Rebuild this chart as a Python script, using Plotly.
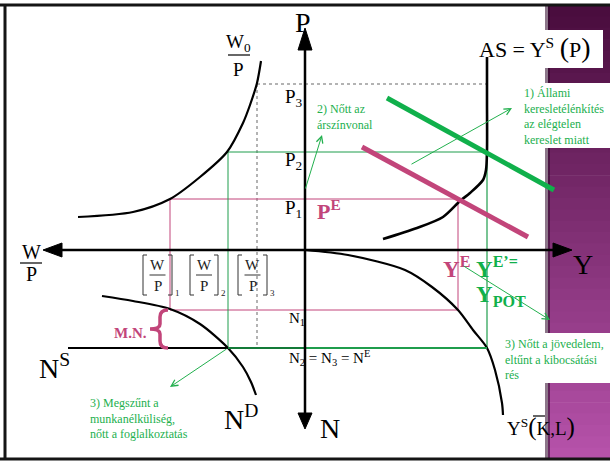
import plotly.graph_objects as go

# ---------------- data (diagram units, origin = crossing of the axes) ----------------
P_levels = [51, 98, 166]          # P1, P2, P3
WP_levels = [-135, -77, -48]      # (W/P)1, (W/P)2, (W/P)3
N_levels = [-60, -98]             # N1, N2 = N3 = N^E
Y_levels = [153, 182]             # Y^E, Y^E' = Y_POT

wage_curve_x = [-44, -48, -55, -62, -78, -105, -135, -172, -227]
wage_curve_y = [189, 167, 145, 127, 98, 73, 51, 38, 33]

as_curve_x = [182, 182, 182, 181, 178, 165, 155, 138, 112, 78]
as_curve_y = [193, 150, 100, 80, 70, 57, 49, 33, 22, 11]

prod_curve_x = [0, 43, 100, 127, 153, 168, 182, 190, 197, 198]
prod_curve_y = [0, -5, -20, -37, -60, -80, -98, -120, -153, -165]

nd_curve_x = [-203, -172, -135, -105, -77, -62, -54, -49]
nd_curve_y = [-46, -51, -59, -74, -98, -117, -132, -145]

ns_x = [-237, -77]
ns_y = [-98, -98]

ad_old_x = [57, 223]
ad_old_y = [103, 13]
ad_new_x = [82, 249]
ad_new_y = [152, 60]

# ---------------- styles ----------------
PINK = "#c2457a"
GREEN = "#10b04b"
GREEN_T = "#22b04e"
GREEN_G = "#1f9d4c"
DKGREEN = "#137a38"
SERIF = "Liberation Serif"

W, H = 610, 461
OX, OY = 305, 250  # pixel of origin


def X(px):
    return px - OX


def Yc(py):
    return OY - py


fig = go.Figure()


def line(xs, ys, color, width, dash="solid", shape="linear"):
    fig.add_trace(go.Scatter(x=xs, y=ys, mode="lines",
                             line=dict(color=color, width=width, dash=dash, shape=shape, smoothing=0.8),
                             hoverinfo="skip"))


def tri(xs, ys):
    fig.add_trace(go.Scatter(x=xs, y=ys, mode="lines", fill="toself", fillcolor="black",
                             line=dict(color="black", width=1), hoverinfo="skip"))


P1, P2, P3 = P_levels
WP1, WP2, WP3 = WP_levels
N1, N2 = N_levels
YE, YPOT = Y_levels

# guides: gray dotted (P3)
line([WP3, YPOT], [P3, P3], "#9a9a9a", 1.5, "dot")
line([WP3, WP3], [P3, N2], "#9a9a9a", 1.5, "dot")
# guides: pink (P1)
line([WP1, YE], [P1, P1], PINK, 1)
line([WP1, WP1], [P1, N1], PINK, 1)
line([WP1, YE], [N1, N1], PINK, 1)
line([YE, YE], [P1, N1], PINK, 1)
# guides: green (P2)
line([WP2, YPOT], [P2, P2], GREEN_G, 1)
line([WP2, WP2], [P2, N2], GREEN_G, 1)
line([YPOT, YPOT], [P2, N2], GREEN_G, 1.2)

# curves
line(wage_curve_x, wage_curve_y, "black", 2.2, shape="spline")
line(as_curve_x, as_curve_y, "black", 2.6, shape="spline")
line(prod_curve_x, prod_curve_y, "black", 2.2, shape="spline")
line(nd_curve_x, nd_curve_y, "black", 2.2, shape="spline")
line(ns_x, ns_y, "black", 2.2)
line([WP2, 0], [N2, N2], DKGREEN, 2.2)
line([0, YPOT], [N2, N2], GREEN_G, 1.8)

# aggregate demand lines
line(ad_old_x, ad_old_y, PINK, 5)
line(ad_new_x, ad_new_y, GREEN, 5)

# axes
line([0, 0], [200, -163], "black", 2.5)
line([-243, 248], [0, 0], "black", 2.5)
tri([-7, 7, 0, -7], [200, 200, 222, 200])
tri([-7, 7, 0, -7], [-163, -163, -179, -163])
tri([-243, -243, -262, -243], [7, -7, 0, 7])
tri([248, 248, 267, 248], [7, -7, 0, 7])

# ---------------- background shapes ----------------
shapes = []
n = 40
top = (74, 13, 62)
bot = (182, 82, 170)
y0p, y1p = 5, 459
for i in range(n):
    t = i / (n - 1)
    c = tuple(int(top[k] + (bot[k] - top[k]) * t) for k in range(3))
    a = y0p + (y1p - y0p) * i / n
    b = y0p + (y1p - y0p) * (i + 1) / n + 0.6
    shapes.append(dict(type="rect", xref="x", yref="y", x0=X(548), x1=X(611), y0=Yc(a), y1=Yc(b),
                       fillcolor="rgb(%d,%d,%d)" % c, line=dict(width=0), layer="below"))
shapes.append(dict(type="rect", xref="x", yref="y", x0=X(545), x1=X(550), y0=Yc(5), y1=Yc(459),
                   fillcolor="rgba(45,5,40,0.55)", line=dict(width=0), layer="below"))
for (a, b, c, d) in [(470, 603, 30, 68), (515, 611, 83, 148), (500, 611, 333, 383)]:
    shapes.append(dict(type="rect", xref="x", yref="y", x0=X(a), x1=X(b), y0=Yc(c), y1=Yc(d),
                       fillcolor="white", line=dict(width=0), layer="below"))

# frame
for (xa, ya, xb, yb) in [(0, 5, 610, 5), (5, 5, 5, 459), (0, 459, 610, 459)]:
    shapes.append(dict(type="line", xref="x", yref="y", x0=X(xa), y0=Yc(ya), x1=X(xb), y1=Yc(yb),
                       line=dict(color="#151515", width=3), layer="above"))

# fraction bars
for (xa, xb, yy) in [(20, 42, 263), (228, 250, 55)]:
    shapes.append(dict(type="line", xref="x", yref="y", x0=X(xa), y0=Yc(yy), x1=X(xb), y1=Yc(yy),
                       line=dict(color="black", width=1.2), layer="above"))

# bracketed (W/P)_i labels
bracket_left = [143, 190, 238]
bracket_right = [172, 218, 267]
annotations = []
for i in range(3):
    l, r = bracket_left[i], bracket_right[i]
    cx = (l + r) / 2
    shapes.append(dict(type="path", xref="x", yref="y",
                       path="M %f,%f L %f,%f L %f,%f L %f,%f" % (X(l + 4), Yc(255), X(l), Yc(255), X(l), Yc(295), X(l + 4), Yc(295)),
                       line=dict(color="#333", width=1), layer="above"))
    shapes.append(dict(type="path", xref="x", yref="y",
                       path="M %f,%f L %f,%f L %f,%f L %f,%f" % (X(r - 4), Yc(255), X(r), Yc(255), X(r), Yc(295), X(r - 4), Yc(295)),
                       line=dict(color="#333", width=1), layer="above"))
    shapes.append(dict(type="line", xref="x", yref="y", x0=X(cx - 8), x1=X(cx + 8), y0=Yc(275), y1=Yc(275),
                       line=dict(color="#333", width=1), layer="above"))
    annotations.append(dict(x=X(cx), y=Yc(265), text="W", showarrow=False,
                            font=dict(family=SERIF, size=15, color="#222")))
    annotations.append(dict(x=X(cx), y=Yc(286), text="P", showarrow=False,
                            font=dict(family=SERIF, size=15, color="#222")))
    annotations.append(dict(x=X(r + 1), y=Yc(293), text=str(i + 1), showarrow=False, xanchor="left",
                            font=dict(family=SERIF, size=9, color="#222")))

# M.N. brace
bx = 160
brace = ("M %f,%f Q %f,%f %f,%f L %f,%f Q %f,%f %f,%f Q %f,%f %f,%f L %f,%f Q %f,%f %f,%f" % (
    X(168), Yc(310), X(bx), Yc(310), X(bx), Yc(317),
    X(bx), Yc(324), X(bx), Yc(329), X(150), Yc(329),
    X(bx), Yc(329), X(bx), Yc(334),
    X(bx), Yc(341), X(bx), Yc(348), X(168), Yc(348)))
shapes.append(dict(type="path", xref="x", yref="y", path=brace,
                   line=dict(color=PINK, width=3.5), layer="above"))

# overline on K
shapes.append(dict(type="line", xref="x", yref="y", x0=X(533), x1=X(545), y0=Yc(416), y1=Yc(416),
                   line=dict(color="black", width=1.2), layer="above"))


def txt(px, py, text, size, color="black", xanchor="center", align="center"):
    annotations.append(dict(x=X(px), y=Yc(py), text=text, showarrow=False, xanchor=xanchor,
                            yanchor="middle", align=align,
                            font=dict(family=SERIF, size=size, color=color)))


# axis labels
txt(303, 22, "P", 28)
txt(330, 428, "N", 28)
txt(583, 264, "Y", 28)
txt(31, 252, "W", 20)
txt(31, 274, "P", 20)
txt(238, 43, "W<sub>0</sub>", 19)
txt(238, 69, "P", 19)
txt(477, 47, "AS = Y<sup>S</sup> <span style='font-size:28px'>(</span>P<span style='font-size:28px'>)</span>", 22, xanchor="left")
txt(505, 427, "Y<sup>S</sup><span style='font-size:25px'>(</span>K,L<span style='font-size:25px'>)</span>", 19, xanchor="left")
txt(37, 366, "N<sup>S</sup>", 28, xanchor="left")
txt(222, 417, "N<sup>D</sup>", 28, xanchor="left")

# level labels
txt(283, 98, "P<sub>3</sub>", 19, xanchor="left")
txt(283, 161, "P<sub>2</sub>", 19, xanchor="left")
txt(283, 209, "P<sub>1</sub>", 19, xanchor="left")
txt(287, 319, "N<sub>1</sub>", 15, xanchor="left")
txt(287, 358, "N<sub>2</sub> = N<sub>3</sub> = N<sup>E</sup>", 15, xanchor="left")

# coloured labels
txt(315, 210, "<b>P<sup>E</sup></b>", 22, PINK, xanchor="left")
txt(441, 267, "<b>Y<sup>E</sup></b>", 23, PINK, xanchor="left")
txt(474, 267, "<b>Y<sup>E’=</sup></b>", 23, GREEN, xanchor="left")
txt(474, 296, "<b>Y<sub>POT</sub></b>", 23, GREEN, xanchor="left")
txt(130, 333, "<b>M.N.</b>", 15, PINK)

# green explanations
txt(315, 117, "2) Nőtt az<br>árszínvonal", 12, GREEN_T, xanchor="left", align="left")
txt(522, 116, "1) Állami<br>keresletélénkítés<br>az elégtelen<br>kereslet miatt", 12, GREEN_T, xanchor="left", align="left")
txt(503, 359, "3) Nőtt a jövedelem,<br>eltűnt a kibocsátási<br>rés", 12, GREEN_T, xanchor="left", align="left")
txt(88, 418, "3) Megszűnt a<br>munkanélküliség,<br>nőtt a foglalkoztatás", 12, GREEN_T, xanchor="left", align="left")

# green arrows
for (tx, ty, hx, hy) in [(410, 165, 512, 108), (305, 190, 322, 135), (462, 265, 550, 320), (228, 348, 170, 387)]:
    annotations.append(dict(x=X(hx), y=Yc(hy), ax=X(tx), ay=Yc(ty), axref="x", ayref="y",
                            xref="x", yref="y", text="", showarrow=True, arrowhead=5, arrowsize=1.3,
                            arrowwidth=1, arrowcolor=GREEN_T, standoff=0, startstandoff=0))

fig.update_layout(
    width=W, height=H, autosize=False,
    margin=dict(l=0, r=0, t=0, b=0, pad=0),
    paper_bgcolor="white", plot_bgcolor="white",
    showlegend=False,
    xaxis=dict(range=[-OX, W - OX], visible=False, fixedrange=True),
    yaxis=dict(range=[OY - H, OY], visible=False, fixedrange=True),
    shapes=shapes, annotations=annotations,
)

fig.write_html("out.html", config={"displayModeBar": False},
               post_script="document.body.style.margin='0px';")
